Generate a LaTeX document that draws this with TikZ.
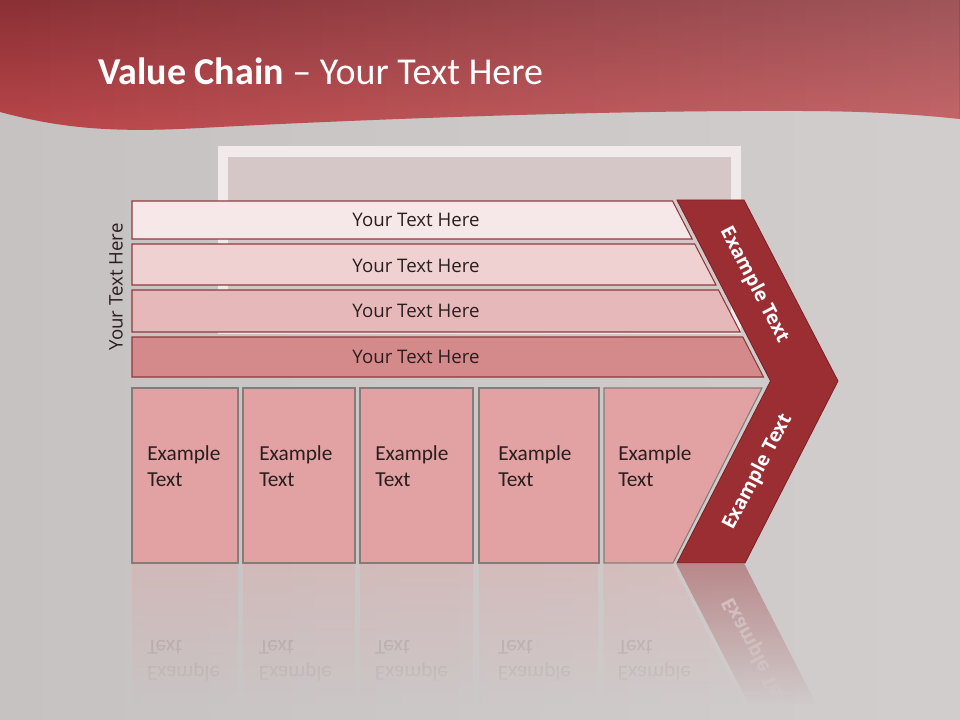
\documentclass[tikz,border=0pt]{standalone}
\usepackage{fontspec}
\setmainfont{Open Sans}
\newfontfamily\calfont{Carlito}
\usetikzlibrary{fadings}
\definecolor{bgc}{HTML}{CDC8C8}
\definecolor{hdtop}{HTML}{8A3035}
\definecolor{hdbot}{HTML}{BA464A}
\definecolor{framew}{HTML}{F2EAEA}
\definecolor{frameinner}{HTML}{D5C7C7}
\definecolor{barA}{HTML}{F6E8E8}
\definecolor{barB}{HTML}{EFD1D2}
\definecolor{barC}{HTML}{E6B8B9}
\definecolor{barD}{HTML}{D4898A}
\definecolor{barline}{HTML}{8D3A3C}
\definecolor{chevc}{HTML}{9A2E33}
\definecolor{chevline}{HTML}{7A2024}
\definecolor{boxc}{HTML}{E2A1A2}
\definecolor{boxline}{HTML}{857B7B}
\definecolor{txtc}{HTML}{2A1E1E}
\tikzfading[name=reflfade, top color=transparent!30, bottom color=transparent!100]
\tikzfading[name=lightright, left color=transparent!100, right color=transparent!0]
\tikzset{
  barshape/.style={draw=barline, line width=0.8pt},
  boxshape/.style={draw=boxline, fill=boxc, line width=0.8pt},
  bartext/.style={font=\fontsize{14}{16}\selectfont, text=txtc, inner sep=0pt},
  boxtext/.style={font=\calfont\fontsize{16}{19.5}\selectfont, text=txtc, align=left, anchor=base west, inner sep=0pt},
  chevtext/.style={font=\bfseries\fontsize{14.5}{16}\selectfont, text=white, inner sep=0pt},
}
\begin{document}
\begin{tikzpicture}[x=0.75pt,y=-0.75pt]
\useasboundingbox (0,0) rectangle (960,720);
% background
\shade[left color=bgc!97!black, right color=bgc!90!white] (0,0) rectangle (960,720);
% header
\def\hdpath{(0,0) -- (960,0) -- (960,119) .. controls (930,116) and (880,111) .. (800,111) .. controls (600,110) and (350,120) .. (200,128) .. controls (110,133) and (60,128) .. (0,112) -- cycle}
\shade[top color=hdtop, bottom color=hdbot] \hdpath;
\fill[white, opacity=0.18, path fading=lightright] \hdpath;
\node[anchor=base west, text=white, inner sep=0pt, font=\calfont\fontsize{28.5}{32}\selectfont] (title) at (98,85) {\textbf{Value Chain} – Your Text Here};
% picture frame
\fill[framew] (218,146) rectangle (741,334);
\fill[frameinner] (228,157) rectangle (731,328);
% bars
\fill[barshape, fill=barA] (132,201) -- (672.5,201) -- (692.2,239) -- (132,239) -- cycle;
\fill[barshape, fill=barB] (132,244) -- (694.7,244) -- (716,285) -- (132,285) -- cycle;
\fill[barshape, fill=barC] (132,290) -- (718.5,290) -- (740.2,332) -- (132,332) -- cycle;
\fill[barshape, fill=barD] (132,337) -- (742.8,337) -- (763.5,377) -- (132,377) -- cycle;
\node[bartext] (t1) at (416,219.5) {Your Text Here};
\node[bartext] (t2) at (416,265.5) {Your Text Here};
\node[bartext] (t3) at (416,311) {Your Text Here};
\node[bartext] (t4) at (416,356.5) {Your Text Here};
\node[bartext, rotate=90] (side) at (116,287) {Your Text Here};
% chevron
\fill[chevc, draw=chevline, line width=0.6pt] (677,200) -- (744,200) -- (838,381) -- (745,563) -- (677,563) -- (770.5,381) -- cycle;
\node[chevtext, rotate=-62.5] (c1) at (754,285) {Example Text};
\node[chevtext, rotate=62.5] (c2) at (758,472) {Example Text};
% boxes
\draw[boxshape] (132,388) rectangle (238,563);
\draw[boxshape] (243,388) rectangle (355,563);
\draw[boxshape] (360,388) rectangle (473,563);
\draw[boxshape] (479,388) rectangle (599,563);
\draw[boxshape] (604,388) -- (762,388) -- (673,563) -- (604,563) -- cycle;
\node[boxtext] (e1) at (147,486) {Example\\Text};
\node[boxtext] (e2) at (259,486) {Example\\Text};
\node[boxtext] (e3) at (375,486) {Example\\Text};
\node[boxtext] (e4) at (498,486) {Example\\Text};
\node[boxtext] (e5) at (618,486) {Example\\Text};
% reflection
\begin{scope}
\path[scope fading=reflfade] (120,564) rectangle (860,705);
\fill[boxc, opacity=0.45] (132,564) rectangle (238,739);
\fill[boxc, opacity=0.45] (243,564) rectangle (355,739);
\fill[boxc, opacity=0.45] (360,564) rectangle (473,739);
\fill[boxc, opacity=0.45] (479,564) rectangle (599,739);
\fill[boxc, opacity=0.45] (604,564) -- (673,564) -- (762,739) -- (604,739) -- cycle;
\fill[chevc, opacity=0.6] (677,564) -- (745,564) -- (838,745) -- (770.5,745) -- cycle;
\begin{scope}[opacity=0.35]
\node[boxtext, yscale=-1] (r1) at (147,641) {Example\\Text};
\node[boxtext, yscale=-1] (r2) at (259,641) {Example\\Text};
\node[boxtext, yscale=-1] (r3) at (375,641) {Example\\Text};
\node[boxtext, yscale=-1] (r4) at (498,641) {Example\\Text};
\node[boxtext, yscale=-1] (r5) at (618,641) {Example\\Text};
\end{scope}
\node[chevtext, rotate=-62.5, yscale=-1, opacity=0.7] (rc) at (758,655) {Example Text};
\end{scope}
\end{tikzpicture}
\end{document}
